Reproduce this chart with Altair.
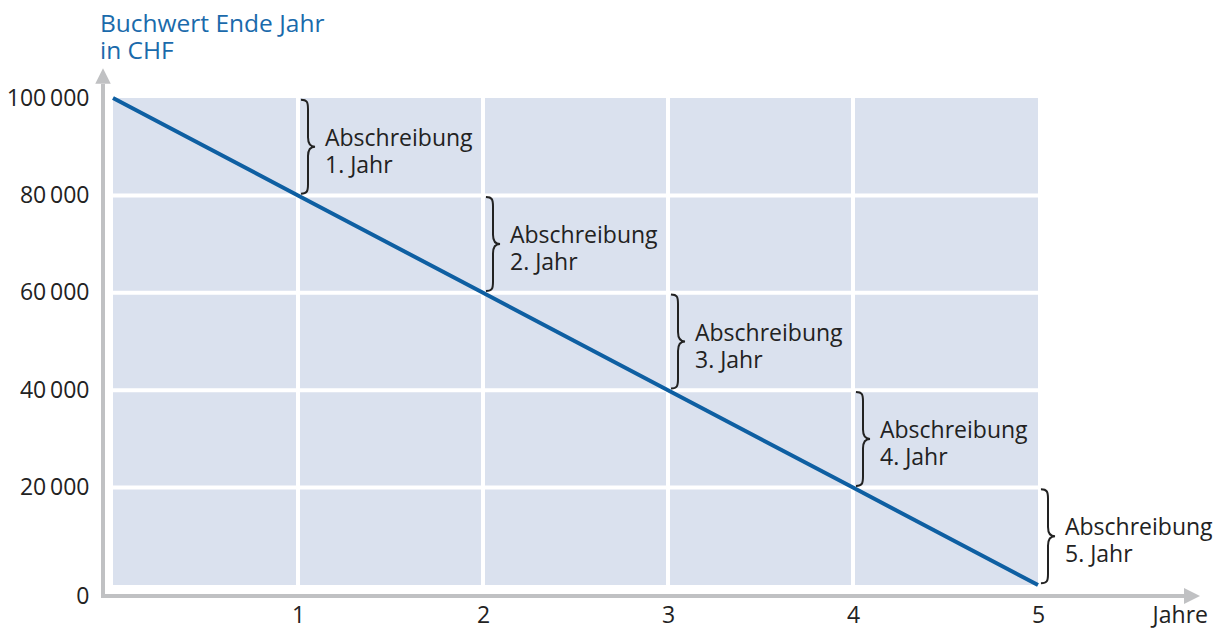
import altair as alt
import pandas as pd

# ---- data ----
years = [0, 1, 2, 3, 4, 5]
book_values = [100000, 80000, 60000, 40000, 20000, 0]
y_ticks = [0, 20000, 40000, 60000, 80000, 100000]
x_ticks = [1, 2, 3, 4, 5]
title_lines = ["Buchwert Ende Jahr", "in CHF"]
x_title = "Jahre"
anno_word = "Abschreibung"

FONT = "Open Sans"
FS = 23
TXT = "#222222"
BLUE_LINE = "#0e5fa2"
BLUE_TITLE = "#1a6aab"
BG = "#dae1ee"
AXIS_GRAY = "#c0c1c3"

line_df = pd.DataFrame({"year": years, "value": book_values})
bg_df = pd.DataFrame({"x": [min(years)], "x2": [max(years)],
                      "y": [min(book_values)], "y2": [max(book_values)]})
vgrid_df = pd.DataFrame({"x": years[1:-1]})
hgrid_df = pd.DataFrame({"y": y_ticks[1:-1]})
anno_df = pd.DataFrame({
    "year": years[1:],
    "mid": [(a + b) / 2 for a, b in zip(book_values[:-1], book_values[1:])],
    "label": [f"{anno_word}\n{y}. Jahr" for y in years[1:]],
})
origin_df = pd.DataFrame({"x": [min(years)], "x2": [max(years)],
                          "y": [min(book_values)], "y2": [max(book_values)],
                          "title": ["\n".join(title_lines)], "xt": [x_title]})

W, H = 925, 487
xs = alt.Scale(domain=[min(years), max(years)], nice=False, zero=False)
ys = alt.Scale(domain=[min(book_values), max(book_values)], nice=False)

X_AXIS = alt.Axis(values=x_ticks, domain=False, ticks=False, grid=False,
                  offset=11, labelPadding=8, labelFont=FONT,
                  labelFontSize=FS, labelColor=TXT, labelBaseline="top",
                  labelFlush=False, title=None)
Y_AXIS = alt.Axis(values=y_ticks, domain=False, ticks=False, grid=False,
                  offset=10, labelPadding=14, labelFont=FONT,
                  labelFontSize=FS, labelColor=TXT, labelBaseline="middle",
                  labelOffset=alt.expr("datum.value == 0 ? 11 : 0"),
                  labelExpr="replace(format(datum.value, ','), ',', '\u2009')",
                  title=None)


def X(field):
    return alt.X(field, scale=xs, axis=X_AXIS, title=None)


def Y(field):
    return alt.Y(field, scale=ys, axis=Y_AXIS, title=None)


bg = alt.Chart(bg_df).mark_rect(color=BG).encode(
    x=X("x:Q"), x2="x2:Q", y=Y("y:Q"), y2="y2:Q")

vgrid = alt.Chart(vgrid_df).mark_rule(color="white", strokeWidth=4).encode(
    x=X("x:Q"), y=alt.value(0), y2=alt.value(H))
hgrid = alt.Chart(hgrid_df).mark_rule(color="white", strokeWidth=4).encode(
    y=Y("y:Q"), x=alt.value(0), x2=alt.value(W))

line = alt.Chart(line_df).mark_line(color=BLUE_LINE, strokeWidth=4).encode(
    x=X("year:Q"), y=Y("value:Q"))

# axis lines with arrows
vaxis = alt.Chart(origin_df).mark_rule(
    color=AXIS_GRAY, strokeWidth=4, xOffset=-10, yOffset=13, y2Offset=-14
).encode(x=X("x:Q"), y=Y("y:Q"), y2="y2:Q")
haxis = alt.Chart(origin_df).mark_rule(
    color=AXIS_GRAY, strokeWidth=4, yOffset=11, xOffset=-12, x2Offset=147
).encode(x=X("x:Q"), x2="x2:Q", y=Y("y:Q"))
up_arrow = alt.Chart(origin_df).mark_point(
    shape="M 0 -1 L 1 1 L -1 1 Z", filled=True, color=AXIS_GRAY, opacity=1,
    size=240, xOffset=-10, yOffset=-22
).encode(x=X("x:Q"), y=Y("y2:Q"))
right_arrow = alt.Chart(origin_df).mark_point(
    shape="M 1 0 L -1 -1 L -1 1 Z", filled=True, color=AXIS_GRAY, opacity=1,
    size=256, xOffset=154, yOffset=11
).encode(x=X("x2:Q"), y=Y("y:Q"))

title_txt = alt.Chart(origin_df).mark_text(
    align="left", baseline="alphabetic", font=FONT, fontSize=24.5,
    color=BLUE_TITLE, lineBreak="\n", lineHeight=27, xOffset=-13, yOffset=-66
).encode(x=X("x:Q"), y=Y("y2:Q"), text="title:N")
xtitle_txt = alt.Chart(origin_df).mark_text(
    align="right", baseline="alphabetic", font=FONT, fontSize=FS,
    color=TXT, xOffset=170, yOffset=38
).encode(x=X("x2:Q"), y=Y("y:Q"), text="xt:N")

brace = alt.Chart(anno_df).mark_point(
    shape=("M -0.15 -1 C -0.02 -1 0 -0.95 0 -0.8 L 0 -0.2 "
           "C 0 -0.07 0.05 0 0.15 0 C 0.05 0 0 0.07 0 0.2 L 0 0.8 "
           "C 0 0.95 -0.02 1 -0.15 1"),
    filled=False, color=TXT, strokeWidth=2, opacity=1, size=94 * 94,
    xOffset=10
).encode(x=X("year:Q"), y=Y("mid:Q"))

anno = alt.Chart(anno_df).mark_text(
    align="left", baseline="middle", font=FONT, fontSize=FS, color=TXT,
    lineBreak="\n", lineHeight=27, dx=27, dy=-8).encode(
    x=X("year:Q"), y=Y("mid:Q"), text="label:N")

chart = alt.layer(
    bg, vgrid, hgrid, vaxis, haxis, up_arrow, right_arrow, line, brace, anno,
    title_txt, xtitle_txt,
).properties(
    width=W, height=H,
    autosize=alt.AutoSizeParams(type="none"),
    padding={"left": 113, "top": 98, "right": 1232 - 113 - W, "bottom": 628 - 98 - H},
    background="white",
).configure_view(stroke=None)

chart.save("out.html", embed_options={"renderer": "svg", "actions": False})
